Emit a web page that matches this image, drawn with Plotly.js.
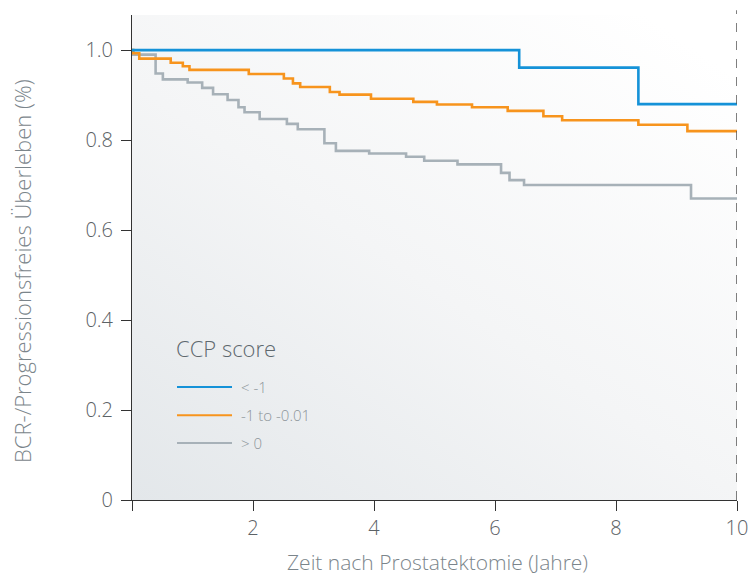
<!DOCTYPE html>
<html>
<head>
<meta charset="utf-8">
<script src="https://cdn.plot.ly/plotly-3.0.1.min.js"></script>
<style>html,body{margin:0;padding:0;background:#fff;}#chart{width:749px;height:578px;}</style>
</head>
<body>
<div id="chart"></div>
<script>
// Data
const seriesNames = ["< -1", "-1 to -0.01", "> 0"];
const legendTitle = "CCP score";
const xTitle = "Zeit nach Prostatektomie (Jahre)";
const yTitle = "BCR-/Progressionsfreies Überleben (%)";
const tBlue = [0, 6.40, 8.37, 10];
const sBlue = [1.0, 0.961, 0.88, 0.88];
const tOrange = [0, 0.02, 0.12, 0.64, 0.84, 0.95, 1.93, 2.51, 2.66, 2.78, 3.27, 3.43, 3.95, 4.65, 5.04, 5.62, 6.21, 6.80, 7.11, 8.37, 9.18, 10];
const sOrange = [1.0, 0.993, 0.981, 0.972, 0.964, 0.956, 0.947, 0.937, 0.926, 0.918, 0.907, 0.901, 0.892, 0.885, 0.879, 0.873, 0.865, 0.853, 0.844, 0.834, 0.82, 0.82];
const tGray = [0, 0.02, 0.39, 0.51, 0.92, 1.16, 1.34, 1.58, 1.76, 1.86, 2.11, 2.56, 2.74, 3.18, 3.37, 3.92, 4.53, 4.83, 5.38, 6.10, 6.24, 6.48, 9.24, 10];
const sGray = [1.0, 0.99, 0.948, 0.935, 0.928, 0.916, 0.902, 0.889, 0.873, 0.862, 0.847, 0.836, 0.824, 0.793, 0.776, 0.770, 0.763, 0.754, 0.746, 0.727, 0.711, 0.70, 0.67, 0.67];
const xTickVals = [0, 2, 4, 6, 8, 10];
const xTickText = ["", "2", "4", "6", "8", "10"];
const yTickVals = [0, 0.2, 0.4, 0.6, 0.8, 1.0];
const yTickText = ["0", "0.2", "0.4", "0.6", "0.8", "1.0"];

const colors = ["#1592d8", "#f7941d", "#a7b1b8"];
const FONT = "Open Sans, Noto Sans, sans-serif";

const bgSvg = '<svg xmlns="http://www.w3.org/2000/svg" width="100" height="100" preserveAspectRatio="none">' +
  '<defs><linearGradient id="g" x1="0" y1="1" x2="0.85" y2="0">' +
  '<stop offset="0" stop-color="#e3e7ea"/><stop offset="0.5" stop-color="#f4f5f6"/><stop offset="1" stop-color="#ffffff"/>' +
  '</linearGradient></defs><rect width="100" height="100" fill="url(#g)"/></svg>';
const bgUri = "data:image/svg+xml;charset=utf-8," + encodeURIComponent(bgSvg);

const curves = [[tGray, sGray, 2], [tOrange, sOrange, 1], [tBlue, sBlue, 0]];
const traces = curves.map(([t, s, k]) => ({
  type: "scatter", mode: "lines", x: t, y: s, name: seriesNames[k],
  line: {shape: "hv", width: 2.6, color: colors[k]},
  hoverinfo: "skip", showlegend: false
}));

// manual legend (paper coordinates)
const legX0 = 0.0744, legX1 = 0.1653, legTextX = 0.1818;
const legY = [0.233, 0.175, 0.1175];
const shapes = [{
  type: "line", xref: "x", yref: "paper", x0: 10, x1: 10, y0: 0, y1: 1.01,
  line: {color: "#555", width: 1.5, dash: "dash"}
}];
const annotations = [
  {text: xTitle, xref: "paper", yref: "paper", x: 0.505, y: -0.127, showarrow: false,
   xanchor: "center", yanchor: "middle", font: {size: 21, color: "#7b858b", family: FONT, weight: 300}},
  {text: yTitle, xref: "paper", yref: "paper", x: -0.182, y: 0.472, showarrow: false, textangle: -90,
   xanchor: "center", yanchor: "middle", font: {size: 22, color: "#7b858b", family: FONT, weight: 300}},
  {text: legendTitle, xref: "paper", yref: "paper", x: 0.0744, y: 0.3134, showarrow: false,
   xanchor: "left", yanchor: "middle", xshift: -3, font: {size: 22, color: "#5e686e", family: FONT, weight: 300}}
];
seriesNames.forEach((n, k) => {
  shapes.push({type: "line", xref: "paper", yref: "paper", x0: legX0, x1: legX1, y0: legY[k], y1: legY[k],
    line: {color: colors[k], width: 2}});
  annotations.push({text: n, xref: "paper", yref: "paper", x: legTextX, y: legY[k], showarrow: false,
    xanchor: "left", yanchor: "middle", xshift: -3, font: {size: 15, color: "#8d959a", family: FONT, weight: 300}});
});

const layout = {
  width: 749, height: 578,
  margin: {l: 132, r: 12, t: 15, b: 78},
  paper_bgcolor: "#ffffff",
  plot_bgcolor: "rgba(0,0,0,0)",
  font: {family: FONT, color: "#5c6266"},
  showlegend: false,
  xaxis: {
    range: [0, 10], tickvals: xTickVals, ticktext: xTickText,
    ticks: "outside", ticklen: 10, tickwidth: 1, tickcolor: "#333",
    showline: true, linecolor: "#333", linewidth: 1,
    showgrid: false, zeroline: false,
    tickfont: {size: 20, color: "#5c6266", weight: 300},
    automargin: false
  },
  yaxis: {
    range: [0, 1.078], tickvals: yTickVals, ticktext: yTickText,
    ticks: "outside", ticklen: 10, tickwidth: 1, tickcolor: "#333",
    showline: true, linecolor: "#333", linewidth: 1,
    showgrid: false, zeroline: false,
    tickfont: {size: 20, color: "#5c6266", weight: 300},
    ticklabelstandoff: 4,
    automargin: false
  },
  images: [{
    source: bgUri, xref: "paper", yref: "paper", x: 0, y: 1, sizex: 1, sizey: 1,
    sizing: "stretch", layer: "below", xanchor: "left", yanchor: "top"
  }],
  shapes: shapes,
  annotations: annotations
};

Plotly.newPlot("chart", traces, layout, {displayModeBar: false, staticPlot: true});
</script>
</body>
</html>
